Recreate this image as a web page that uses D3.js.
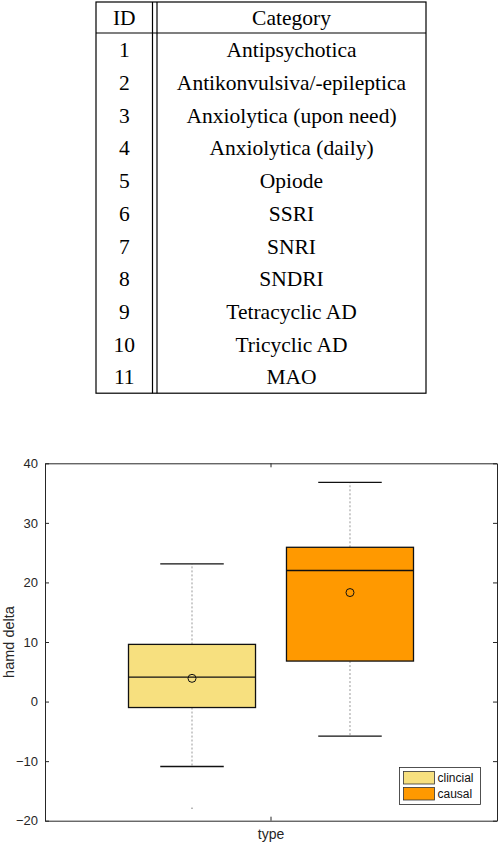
<!DOCTYPE html>
<html>
<head>
<meta charset="utf-8">
<script src="https://cdn.jsdelivr.net/npm/d3@7"></script>
<style>
  body { margin: 0; background: #fff; }
  svg { display: block; }
</style>
</head>
<body>
<script>
// table data
const ids = [1, 2, 3, 4, 5, 6, 7, 8, 9, 10, 11];
const categories = ['Antipsychotica', 'Antikonvulsiva/-epileptica', 'Anxiolytica (upon need)',
  'Anxiolytica (daily)', 'Opiode', 'SSRI', 'SNRI', 'SNDRI', 'Tetracyclic AD', 'Tricyclic AD', 'MAO'];

// boxplot data
const groups = ['clincial', 'causal'];
const q1 = [-1.0, 6.8];
const median = [4.1, 22.0];
const q3 = [9.6, 25.9];
const mean = [3.9, 18.3];
const whiskLow = [-10.9, -5.8];
const whiskHigh = [23.1, 36.8];
const outliers = [[-17.9], []];
const colors = ['#f7e07f', '#ff9900'];
const yTicks = [-20, -10, 0, 10, 20, 30, 40];

const W = 498, H = 844;
const svg = d3.select('body').append('svg')
  .attr('width', W)
  .attr('height', H);

// ---------- table ----------
const tLeft = 96, tRight = 426, tTop = 2, headBottom = 33, rowH = 32.7;
const colSplit = 152.5;
const tBottom = headBottom + rowH * ids.length + 0.5;
const rowY = d3.scaleBand()
  .domain(ids)
  .range([headBottom, headBottom + rowH * ids.length]);

const table = svg.append('g')
  .attr('font-family', '"Liberation Serif", "Times New Roman", serif')
  .attr('font-size', 21.5)
  .attr('fill', '#000');

table.append('rect')
  .attr('x', tLeft).attr('y', tTop)
  .attr('width', tRight - tLeft).attr('height', tBottom - tTop)
  .attr('fill', 'none').attr('stroke', '#000').attr('stroke-width', 1.2);
table.append('line')
  .attr('x1', tLeft).attr('x2', tRight)
  .attr('y1', headBottom).attr('y2', headBottom)
  .attr('stroke', '#000').attr('stroke-width', 1.2);
[colSplit, colSplit + 4.5].forEach(x => {
  table.append('line')
    .attr('x1', x).attr('x2', x)
    .attr('y1', tTop).attr('y2', tBottom)
    .attr('stroke', '#000').attr('stroke-width', 1.2);
});

const idX = (tLeft + colSplit) / 2;
const catX = (colSplit + 4.5 + tRight) / 2;
table.append('text').attr('x', idX).attr('y', 24.5).attr('text-anchor', 'middle').text('ID');
table.append('text').attr('x', catX).attr('y', 24.5).attr('text-anchor', 'middle').text('Category');

table.selectAll('.id')
  .data(ids)
  .enter()
  .append('text')
  .attr('class', 'id')
  .attr('x', idX)
  .attr('y', d => rowY(d) + rowH / 2 + 8)
  .attr('text-anchor', 'middle')
  .text(d => d);

table.selectAll('.cat')
  .data(categories)
  .enter()
  .append('text')
  .attr('class', 'cat')
  .attr('x', catX)
  .attr('y', (d, i) => rowY(ids[i]) + rowH / 2 + 8)
  .attr('text-anchor', 'middle')
  .text(d => d);

// ---------- boxplot ----------
const pLeft = 45, pRight = 497, pTop = 463.3, pBottom = 820.7;

const yScale = d3.scaleLinear()
  .domain([-20, 40])
  .range([pBottom, pTop]);

const xScale = d3.scaleBand()
  .domain(['type'])
  .range([pLeft, pRight]);
const xc = xScale('type') + xScale.bandwidth() / 2;

const gScale = d3.scaleBand()
  .domain(groups)
  .range([xc - 142.5, xc + 142.5])
  .paddingInner(0.196)
  .paddingOuter(0);

const chart = svg.append('g')
  .attr('font-family', '"Liberation Sans", Arial, sans-serif');

// axes
const yAxisL = d3.axisLeft(yScale).tickValues(yTicks).tickSizeInner(-4).tickSizeOuter(0).tickPadding(7);
const yAxisR = d3.axisRight(yScale).tickValues(yTicks).tickSizeInner(-4).tickSizeOuter(0).tickFormat('');
const xAxisB = d3.axisBottom(xScale).tickSizeInner(-4).tickSizeOuter(0).tickFormat('');
const xAxisT = d3.axisTop(xScale).tickSizeInner(-4).tickSizeOuter(0).tickFormat('');

const styleAxis = g => {
  g.select('.domain').attr('stroke', '#262626');
  g.selectAll('.tick line').attr('stroke', '#262626');
  g.selectAll('.tick text').attr('fill', '#262626').attr('font-size', 13)
    .attr('font-family', '"Liberation Sans", Arial, sans-serif');
};

chart.append('g').attr('transform', `translate(${pLeft},0)`).call(yAxisL).call(styleAxis);
chart.append('g').attr('transform', `translate(${pRight},0)`).call(yAxisR).call(styleAxis);
chart.append('g').attr('transform', `translate(0,${pBottom})`).call(xAxisB).call(styleAxis);
chart.append('g').attr('transform', `translate(0,${pTop})`).call(xAxisT).call(styleAxis);

chart.append('text')
  .attr('transform', `translate(13.5,${(pTop + pBottom) / 2}) rotate(-90)`)
  .attr('text-anchor', 'middle')
  .attr('font-size', 14.5)
  .attr('fill', '#262626')
  .text('hamd delta');

chart.append('text')
  .attr('x', xc)
  .attr('y', 839)
  .attr('text-anchor', 'middle')
  .attr('font-size', 14)
  .attr('fill', '#262626')
  .text('type');

// boxes
const boxes = chart.selectAll('.box')
  .data(groups)
  .enter()
  .append('g')
  .attr('class', 'box');

const bw = gScale.bandwidth();
const cx = g => gScale(g) + bw / 2;
const capW = bw / 2;

// whisker stems
boxes.append('line')
  .attr('x1', cx).attr('x2', cx)
  .attr('y1', (d, i) => yScale(q3[i])).attr('y2', (d, i) => yScale(whiskHigh[i]))
  .attr('stroke', '#999').attr('stroke-dasharray', '2,2');
boxes.append('line')
  .attr('x1', cx).attr('x2', cx)
  .attr('y1', (d, i) => yScale(q1[i])).attr('y2', (d, i) => yScale(whiskLow[i]))
  .attr('stroke', '#999').attr('stroke-dasharray', '2,2');

// caps
boxes.append('line')
  .attr('x1', d => cx(d) - capW / 2).attr('x2', d => cx(d) + capW / 2)
  .attr('y1', (d, i) => yScale(whiskHigh[i])).attr('y2', (d, i) => yScale(whiskHigh[i]))
  .attr('stroke', '#111').attr('stroke-width', 1.3);
boxes.append('line')
  .attr('x1', d => cx(d) - capW / 2).attr('x2', d => cx(d) + capW / 2)
  .attr('y1', (d, i) => yScale(whiskLow[i])).attr('y2', (d, i) => yScale(whiskLow[i]))
  .attr('stroke', '#111').attr('stroke-width', 1.3);

// box body
boxes.append('rect')
  .attr('x', d => gScale(d))
  .attr('y', (d, i) => yScale(q3[i]))
  .attr('width', bw)
  .attr('height', (d, i) => yScale(q1[i]) - yScale(q3[i]))
  .attr('fill', (d, i) => colors[i])
  .attr('stroke', '#111')
  .attr('stroke-width', 1.3);

// median
boxes.append('line')
  .attr('x1', d => gScale(d)).attr('x2', d => gScale(d) + bw)
  .attr('y1', (d, i) => yScale(median[i])).attr('y2', (d, i) => yScale(median[i]))
  .attr('stroke', '#111').attr('stroke-width', 1.3);

// mean
boxes.append('circle')
  .attr('cx', cx)
  .attr('cy', (d, i) => yScale(mean[i]))
  .attr('r', 4)
  .attr('fill', 'none')
  .attr('stroke', '#111')
  .attr('stroke-width', 1);

// outliers
boxes.each(function (d, i) {
  d3.select(this).selectAll('.out')
    .data(outliers[i])
    .enter()
    .append('line')
    .attr('class', 'out')
    .attr('x1', cx(d) - 1).attr('x2', cx(d) + 1)
    .attr('y1', v => yScale(v)).attr('y2', v => yScale(v))
    .attr('stroke', '#999');
});

// legend
const legend = chart.append('g').attr('transform', 'translate(399.5,767.5)');
legend.append('rect')
  .attr('width', 81).attr('height', 37)
  .attr('fill', '#fff').attr('stroke', '#262626').attr('stroke-width', 0.8);
const legItems = legend.selectAll('.item')
  .data(groups)
  .enter()
  .append('g')
  .attr('transform', (d, i) => `translate(4,${4 + i * 16})`);
legItems.append('rect')
  .attr('width', 31).attr('height', 12.5)
  .attr('fill', (d, i) => colors[i])
  .attr('stroke', '#333').attr('stroke-width', 0.8);
legItems.append('text')
  .attr('x', 34).attr('y', 10.5)
  .attr('font-size', 12)
  .attr('fill', '#111')
  .text(d => d);
</script>
</body>
</html>
